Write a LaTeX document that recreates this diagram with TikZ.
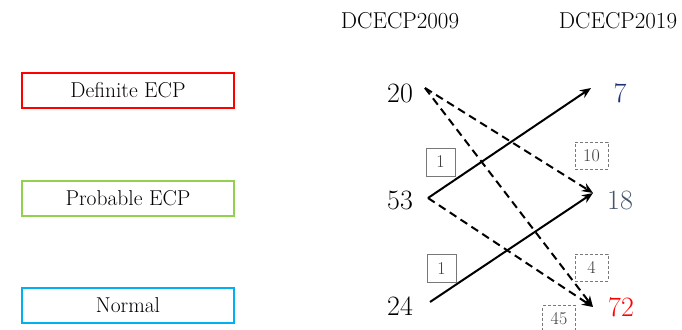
\documentclass[tikz,border=0pt]{standalone}
\usepackage{fontspec}
\usetikzlibrary{arrows.meta}
\definecolor{defred}{RGB}{255,0,0}
\definecolor{probgreen}{RGB}{146,208,80}
\definecolor{normblue}{RGB}{0,176,240}
\definecolor{navy}{RGB}{28,50,120}
\definecolor{slate}{RGB}{68,84,106}
\definecolor{tagline}{RGB}{120,120,120}
\definecolor{tagtext}{RGB}{60,60,60}
\begin{document}
\begin{tikzpicture}[x=1pt,y=-1pt,
  catbox/.style={draw,line width=2.5pt,minimum width=212pt,minimum height=35pt,inner sep=0pt,
    font=\fontsize{21.5}{24}\selectfont},
  header/.style={font=\fontsize{23}{26}\selectfont},
  count/.style={font=\fontsize{28}{32}\selectfont,inner sep=0pt},
  tagsolid/.style={draw=tagline,line width=0.9pt,minimum width=29pt,minimum height=28pt,inner sep=0pt,
    text=tagtext,font=\fontsize{18}{20}\selectfont},
  tagdash/.style={draw=tagline,line width=0.9pt,dash pattern=on 3pt off 2pt,minimum width=33pt,minimum height=27pt,
    inner sep=0pt,text=tagtext,font=\fontsize{18}{20}\selectfont},
  flow/.style={line width=2pt,-{Stealth[length=11pt,width=9pt]}},
  flowdash/.style={flow,dash pattern=on 8pt off 5pt}]
\useasboundingbox (0,0) rectangle (682,329);

% categories
\node[catbox,draw=defred]    (def)  at (128,90.5)  {Definite ECP};
\node[catbox,draw=probgreen] (prob) at (128,198.5) {Probable ECP};
\node[catbox,draw=normblue]  (norm) at (128,305.5) {Normal};

% column headers
\node[header] (h09) at (400,21) {DCECP2009};
\node[header] (h19) at (618,21) {DCECP2019};

% counts
\node[count] (n20) at (400,93)  {20};
\node[count] (n53) at (400,200) {53};
\node[count] (n24) at (400,306) {24};
\node[count,text=navy]   (n7)  at (620,93)  {7};
\node[count,text=slate]  (n18) at (620,200) {18};
\node[count,text=defred] (n72) at (621,307) {72};

% arrow end points
\coordinate (o20) at (425,88);
\coordinate (o53) at (428,198);
\coordinate (o24) at (430,302);
\coordinate (i7)  at (591,88);
\coordinate (i18) at (593,193);
\coordinate (i72) at (593,307);

% transitions
\draw[flowdash] (o20) -- (i18);
\draw[flowdash] (o20) -- (i72);
\draw[flowdash] (o53) -- (i72);
\draw[flow] (o53) -- (i7);
\draw[flow] (o24) -- (i18);

% tags
\node[tagsolid] (t1a) at (440.5,162) {1};
\node[tagsolid] (t1b) at (441.5,268.5) {1};
\node[tagdash]  (t10) at (591.5,155.5) {10};
\node[tagdash]  (t4)  at (591.5,267.5) {4};
\node[tagdash]  (t45) at (559,319) {45};
\end{tikzpicture}
\end{document}
